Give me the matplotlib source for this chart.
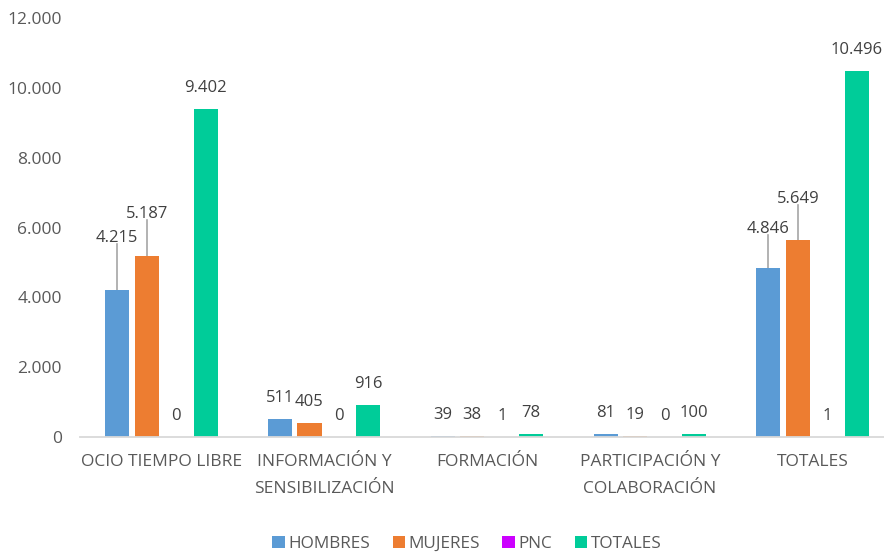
import matplotlib.pyplot as plt
import matplotlib.transforms as mtransforms
import numpy as np

categories = ["OCIO TIEMPO LIBRE", "INFORMACIÓN Y\nSENSIBILIZACIÓN", "FORMACIÓN",
              "PARTICIPACIÓN Y\nCOLABORACIÓN", "TOTALES"]
series_names = ["HOMBRES", "MUJERES", "PNC", "TOTALES"]
hombres = [4215, 511, 39, 81, 4846]
mujeres = [5187, 405, 38, 19, 5649]
pnc = [0, 0, 1, 0, 1]
totales = [9402, 916, 78, 100, 10496]
y_ticks = [0, 2000, 4000, 6000, 8000, 10000, 12000]

colors = ["#5B9BD5", "#ED7D31", "#CC00FF", "#00CC99"]
text_color = "#595959"
# labels that Excel pushed up with a leader line: (series index, category index) -> label y
moved_labels = {(0, 0): 5700, (1, 0): 6380, (0, 4): 5960, (1, 4): 6820}


def fmt(v):
    return f"{v:,}".replace(",", ".")


def main():
    plt.rcParams['font.family'] = ['Open Sans', 'DejaVu Sans']
    fig = plt.figure(figsize=(8.84, 5.52), dpi=100)
    # axes run a little past the right edge, like the original
    ax = fig.add_axes([80 / 884, 1 - 437 / 552, 814 / 884, 419 / 552])

    data = [hombres, mujeres, pnc, totales]
    x = np.arange(len(categories))
    step = 0.181
    width = 0.148
    px_per_unit = 419 / 12000

    for i, (name, vals) in enumerate(zip(series_names, data)):
        xs = x + (i - 1.5) * step
        ax.bar(xs, vals, width, color=colors[i], label=name, zorder=2)
        for j, (xx, v) in enumerate(zip(xs, vals)):
            if (i, j) in moved_labels:
                ly = moved_labels[(i, j)]
                ax.plot([xx, xx], [v, ly - 6 / px_per_unit], color="#A6A6A6",
                        lw=1.2, zorder=1)
                ax.text(xx, ly, fmt(v), ha="center", va="center",
                        fontsize=12, color="#404040")
            else:
                ax.text(xx, v + 21 / px_per_unit, fmt(v), ha="center",
                        va="center", fontsize=12, color="#404040")

    ax.set_xlim(-0.5, len(categories) - 0.5)
    ax.set_ylim(0, 12000)
    ax.set_yticks(y_ticks)
    ax.set_yticklabels([fmt(t) for t in y_ticks], fontsize=12.5, color=text_color)
    # Excel sits the y labels a touch below the tick value
    shift = mtransforms.ScaledTranslation(0, -3 / 100, fig.dpi_scale_trans)
    for lbl in ax.get_yticklabels():
        lbl.set_transform(lbl.get_transform() + shift)
    ax.set_xticks(x)
    ax.set_xticklabels(categories, fontsize=12.5, color=text_color, linespacing=1.85)
    ax.tick_params(axis="both", length=0)
    ax.tick_params(axis="y", pad=13)
    ax.tick_params(axis="x", pad=12.5)
    for side in ["top", "right", "left"]:
        ax.spines[side].set_visible(False)
    ax.spines["bottom"].set_color("#D9D9D9")
    ax.spines["bottom"].set_linewidth(1.3)

    fig.legend(loc="center", bbox_to_anchor=(467 / 884, 1 - 544 / 552), ncol=4,
               frameon=False, fontsize=12.3, handlelength=0.75, handleheight=0.75,
               handletextpad=0.2, columnspacing=1.3, labelcolor=text_color)

    fig.savefig("out.png", dpi=100)


if __name__ == '__main__':
    main()
